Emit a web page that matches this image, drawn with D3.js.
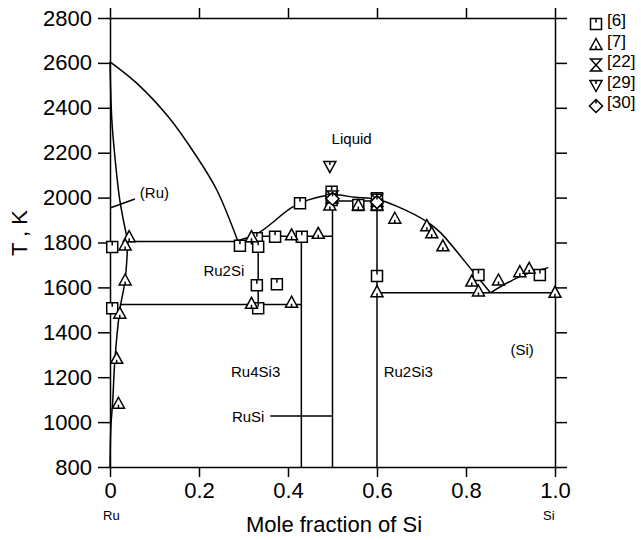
<!DOCTYPE html>
<html>
<head>
<meta charset="utf-8">
<script src="https://cdn.jsdelivr.net/npm/d3@7"></script>
<style>
  body { margin: 0; background: #fff; }
  svg { font-family: "Liberation Sans", Arial, Helvetica, sans-serif; }
  .curve { fill: none; stroke: #000; stroke-width: 1.5; }
  .axis path, .axis line { stroke: #000; stroke-width: 1.5; }
  .mark { fill: #fff; stroke: #000; stroke-width: 1.5; }
</style>
</head>
<body>
<script>
// tick values
var xTicks = [0, 0.2, 0.4, 0.6, 0.8, 1.0];
var yTicks = [800, 1000, 1200, 1400, 1600, 1800, 2000, 2200, 2400, 2600, 2800];

// phase boundaries, [mole fraction Si, T]
var liquidusRu = [[0, 2605], [0.06, 2510], [0.131, 2360], [0.195, 2182], [0.24, 2034], [0.287, 1808]];
var liquidusMid = [[0.287, 1808], [0.333, 1842], [0.408, 1955], [0.446, 1990], [0.5, 2012], [0.55, 2002],
  [0.6, 1993], [0.644, 1962], [0.712, 1893], [0.742, 1845], [0.816, 1670], [0.855, 1576]];
var liquidusSi = [[0.855, 1576], [0.921, 1648], [0.985, 1688]];
var solidusRu = [[0, 2605], [0.004, 2350], [0.011, 2182], [0.022, 1989], [0.04, 1805]];
var solvusRu = [[0.04, 1805], [0.034, 1633], [0.022, 1499], [0.011, 1277], [0.006, 1091], [0.002, 980], [0, 800]];
var tieLines = [
  [[0.04, 1805], [0.333, 1805]],
  [[0.333, 1828], [0.5, 1828]],
  [[0.022, 1524], [0.43, 1524]],
  [[0.333, 1828], [0.333, 1524]],
  [[0.43, 1828], [0.43, 800]],
  [[0.5, 2012], [0.5, 800]],
  [[0.5, 1985], [0.6, 1985]],
  [[0.6, 1993], [0.6, 800]],
  [[0.6, 1576], [1.0, 1576]]
];
var leaderRu = [[0, 1954], [0.056, 1994]];
var leaderRuSi = [[0.36, 1027], [0.5, 1027]];

// experimental points per reference
var ref6 = [[0.005, 1780], [0.005, 1507], [0.292, 1786], [0.33, 1819], [0.333, 1781], [0.371, 1826],
  [0.431, 1826], [0.427, 1975], [0.33, 1610], [0.375, 1614], [0.333, 1507], [0.498, 2026], [0.498, 1989],
  [0.558, 1967], [0.6, 1997], [0.6, 1967], [0.6, 1651], [0.828, 1655], [0.966, 1655]];
var ref7 = [[0.043, 1826], [0.034, 1789], [0.034, 1633], [0.022, 1485], [0.015, 1284], [0.019, 1084],
  [0.318, 1826], [0.408, 1834], [0.468, 1841], [0.318, 1529], [0.408, 1534], [0.494, 1967], [0.558, 1967],
  [0.6, 1967], [0.6, 1581], [0.64, 1908], [0.712, 1875], [0.723, 1843], [0.748, 1785], [0.813, 1628],
  [0.828, 1584], [0.873, 1633], [0.921, 1670], [0.942, 1685], [1.0, 1578]];
var ref22 = [[0.5, 2003], [0.6, 1988]];
var ref29 = [[0.494, 2138]];
var ref30 = [[0.5, 1995], [0.6, 1980]];

var legendNames = ["[6]", "[7]", "[22]", "[29]", "[30]"];

var phaseLabels = [
  { text: "Liquid", x: 0.498, t: 2240 },
  { text: "(Ru)", x: 0.067, t: 2000 },
  { text: "Ru2Si", x: 0.21, t: 1650 },
  { text: "Ru4Si3", x: 0.272, t: 1202 },
  { text: "RuSi", x: 0.274, t: 1002 },
  { text: "Ru2Si3", x: 0.615, t: 1202 },
  { text: "(Si)", x: 0.9, t: 1300 }
];

var width = 641,
  height = 540;

var x = d3.scaleLinear().domain([0, 1]).range([110, 555]);
var y = d3.scaleLinear().domain([800, 2800]).range([467, 18]);

var svg = d3.select("body").append("svg")
  .attr("width", width)
  .attr("height", height);

function plainText(g) {
  g.attr("font-family", null).attr("font-size", 22);
  g.selectAll("text").attr("fill", "#000");
}

// axes on all four sides
svg.append("g")
  .attr("class", "axis")
  .attr("transform", "translate(0," + y(800) + ")")
  .call(d3.axisBottom(x).tickValues(xTicks).tickSize(10).tickSizeOuter(0).tickPadding(5)
    .tickFormat(d => d === 0 ? "0" : d3.format(".1f")(d)))
  .call(plainText);

svg.append("g")
  .attr("class", "axis")
  .attr("transform", "translate(0," + y(2800) + ")")
  .call(d3.axisTop(x).tickValues(xTicks).tickSize(10).tickSizeOuter(0).tickFormat(""));

svg.append("g")
  .attr("class", "axis")
  .attr("transform", "translate(" + x(0) + ",0)")
  .call(d3.axisLeft(y).tickValues(yTicks).tickSize(12).tickSizeOuter(0).tickPadding(6)
    .tickFormat(d3.format("d")))
  .call(plainText);

svg.append("g")
  .attr("class", "axis")
  .attr("transform", "translate(" + x(1) + ",0)")
  .call(d3.axisRight(y).tickValues(yTicks).tickSize(12).tickSizeOuter(0).tickFormat(""));

// axis titles
svg.append("text")
  .attr("x", 334)
  .attr("y", 532)
  .attr("text-anchor", "middle")
  .attr("font-size", 22)
  .text("Mole fraction of Si");

svg.append("text")
  .attr("transform", "translate(27,233) rotate(-90)")
  .attr("text-anchor", "middle")
  .attr("font-size", 22)
  .text("T , K");

svg.append("text")
  .attr("x", x(0) - 7)
  .attr("y", 520)
  .attr("font-size", 13)
  .text("Ru");

svg.append("text")
  .attr("x", x(1) - 12)
  .attr("y", 520)
  .attr("font-size", 13)
  .text("Si");

// curves
var smooth = d3.line().x(d => x(d[0])).y(d => y(d[1])).curve(d3.curveCatmullRom);
var straight = d3.line().x(d => x(d[0])).y(d => y(d[1]));

svg.selectAll(".liq")
  .data([liquidusRu, liquidusMid, liquidusSi, solidusRu, solvusRu])
  .enter().append("path")
  .attr("class", "curve")
  .attr("d", d => smooth(d));

svg.selectAll(".tie")
  .data(tieLines.concat([leaderRu, leaderRuSi]))
  .enter().append("path")
  .attr("class", "curve")
  .attr("d", d => straight(d));

svg.selectAll(".phase")
  .data(phaseLabels)
  .enter().append("text")
  .attr("x", d => x(d.x))
  .attr("y", d => y(d.t))
  .attr("font-size", 15)
  .text(d => d.text);

// marker shapes, each with the small inner tick
var symbolPath = {
  square: "M-5.5,-5.5H5.5V5.5H-5.5Z M0,-5.5V-1.5",
  triangle: "M0,-6L6,5H-6Z M0,5V1.5",
  hourglass: "M-5.5,-6H5.5L-5.5,6H5.5Z",
  down: "M0,6L6,-5H-6Z M0,-5V-1.5",
  diamond: "M0,-6.5L6.5,0L0,6.5L-6.5,0Z M0,-6.5V-2.5"
};

var sets = [
  { data: ref6, shape: "square" },
  { data: ref7, shape: "triangle" },
  { data: ref22, shape: "hourglass" },
  { data: ref29, shape: "down" },
  { data: ref30, shape: "diamond" }
];

sets.forEach(function (s) {
  svg.append("g").selectAll("path")
    .data(s.data)
    .enter().append("path")
    .attr("class", "mark")
    .attr("transform", d => "translate(" + x(d[0]) + "," + y(d[1]) + ")")
    .attr("d", symbolPath[s.shape]);
});

// legend
var legend = svg.append("g")
  .selectAll("g")
  .data(sets)
  .enter().append("g")
  .attr("transform", (d, i) => "translate(596," + (24 + i * 20.5) + ")");

legend.append("path")
  .attr("class", "mark")
  .attr("d", d => symbolPath[d.shape]);

legend.append("text")
  .attr("x", 11)
  .attr("y", 2)
  .attr("font-size", 17)
  .text((d, i) => legendNames[i]);
</script>
</body>
</html>
